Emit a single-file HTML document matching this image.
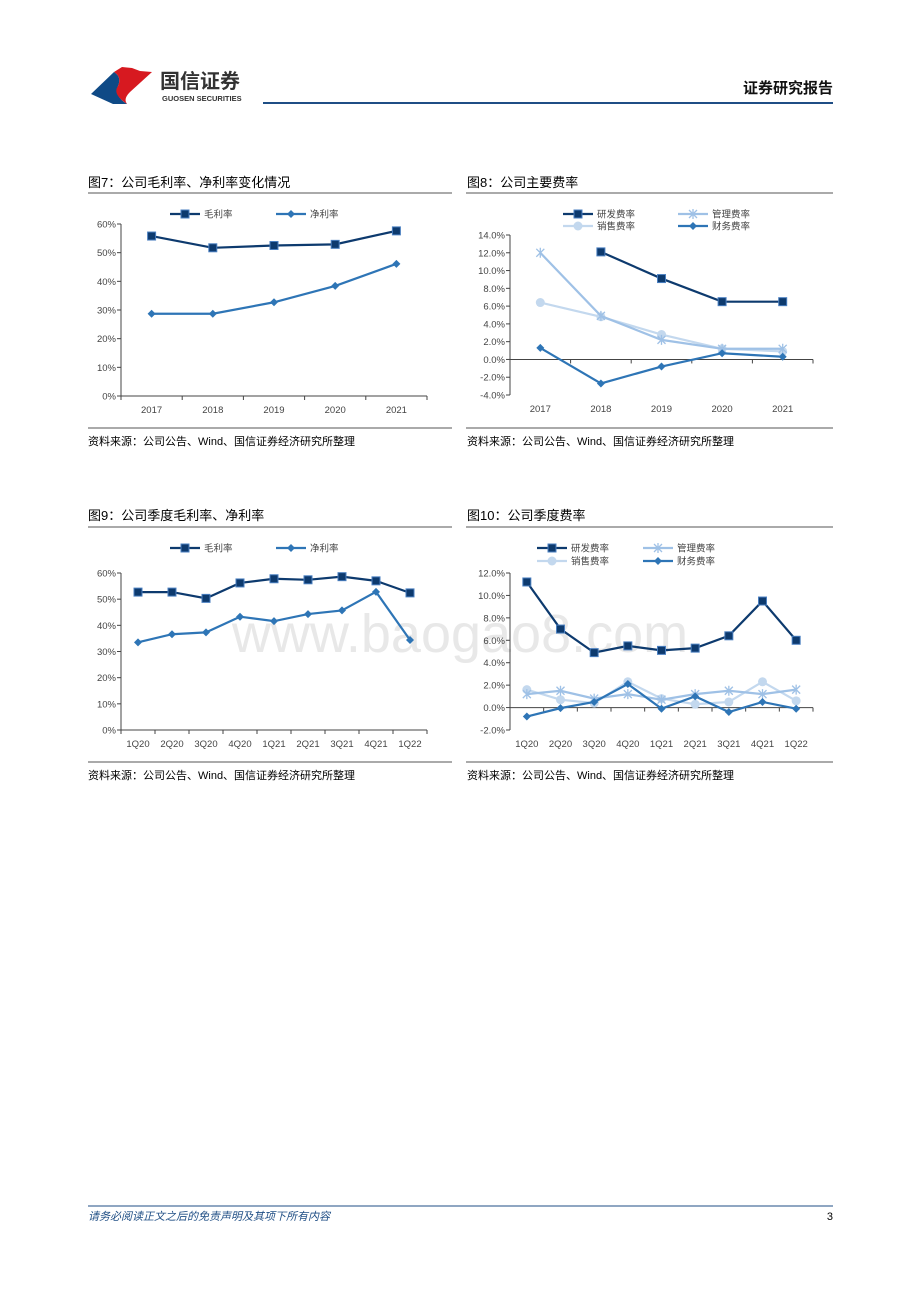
<!DOCTYPE html>
<html><head><meta charset="utf-8"><style>
body{margin:0;background:#fff;}
svg{display:block;font-family:"Liberation Sans","Noto Sans CJK SC",sans-serif;}
</style></head><body>
<svg id="pg" width="920" height="1302" viewBox="0 0 920 1302" xmlns="http://www.w3.org/2000/svg">
<text x="460" y="652" font-size="54" fill="#e8e8e8" text-anchor="middle">www.baogao8.com</text>
<g>
<path d="M91,94 L114,72 Q122,77 118,86 Q114,96 127,104 L113,104 Z" fill="#0f4a86"/>
<path d="M114,72 L122,67 L132,68 L140,71 L152,72 L130,92 Q123,99 127,104 Q112,94 118,86 Q122,77 114,72 Z" fill="#d71920"/>
<text x="160" y="88" font-size="20" font-weight="bold" fill="#333">国信证券</text>
<text x="162" y="101" font-size="7.5" font-weight="bold" fill="#333">GUOSEN SECURITIES</text>
</g>
<line x1="263" y1="103" x2="833" y2="103" stroke="#1f4e85" stroke-width="2"/>
<text x="833" y="93" font-size="15" font-weight="bold" text-anchor="end" fill="#111">证券研究报告</text>
<text x="88" y="187" font-size="13" fill="#000">图7：公司毛利率、净利率变化情况</text>
<text x="467" y="187" font-size="13" fill="#000">图8：公司主要费率</text>
<text x="88" y="520" font-size="13" fill="#000">图9：公司季度毛利率、净利率</text>
<text x="467" y="520" font-size="13" fill="#000">图10：公司季度费率</text>
<g stroke="#555" stroke-width="1">
<line x1="88" y1="193" x2="452" y2="193"/><line x1="466" y1="193" x2="833" y2="193"/>
<line x1="88" y1="527" x2="452" y2="527"/><line x1="466" y1="527" x2="833" y2="527"/>
<line x1="88" y1="428" x2="452" y2="428"/><line x1="466" y1="428" x2="833" y2="428"/>
<line x1="88" y1="762" x2="452" y2="762"/><line x1="466" y1="762" x2="833" y2="762"/>
</g>
<g font-size="11" fill="#000">
<text x="88" y="445">资料来源：公司公告、Wind、国信证券经济研究所整理</text>
<text x="467" y="445">资料来源：公司公告、Wind、国信证券经济研究所整理</text>
<text x="88" y="779">资料来源：公司公告、Wind、国信证券经济研究所整理</text>
<text x="467" y="779">资料来源：公司公告、Wind、国信证券经济研究所整理</text>
</g>
<line x1="88" y1="1206" x2="833" y2="1206" stroke="#1f4e85" stroke-width="1"/>
<text x="88" y="1220" font-size="11" font-style="italic" fill="#1f4e85">请务必阅读正文之后的免责声明及其项下所有内容</text>
<text x="833" y="1220" font-size="11" text-anchor="end" fill="#000">3</text>
</svg>
<script>
const yearCats=["2017","2018","2019","2020","2021"];
const quarterCats=["1Q20","2Q20","3Q20","4Q20","1Q21","2Q21","3Q21","4Q21","1Q22"];
const grossAnnual=[55.8,51.7,52.5,52.9,57.6];
const netAnnual=[28.7,28.7,32.7,38.4,46.1];
const rdAnnual=[null,12.1,9.1,6.5,6.5];
const mgmtAnnual=[12.0,4.9,2.2,1.2,1.2];
const salesAnnual=[6.4,4.8,2.8,1.2,0.9];
const finAnnual=[1.3,-2.7,-0.8,0.7,0.3];
const grossQ=[52.7,52.7,50.3,56.2,57.8,57.4,58.6,57.0,52.4];
const netQ=[33.5,36.6,37.3,43.3,41.6,44.3,45.7,52.8,34.4];
const rdQ=[11.2,7.0,4.9,5.5,5.1,5.3,6.4,9.5,6.0];
const mgmtQ=[1.2,1.5,0.8,1.2,0.7,1.2,1.5,1.2,1.6];
const salesQ=[1.6,0.7,0.4,2.3,0.8,0.3,0.5,2.3,0.6];
const finQ=[-0.8,-0.05,0.5,2.1,-0.1,1.0,-0.4,0.5,-0.1];
const ticks7=[0,10,20,30,40,50,60];
const ticks8=[-4,-2,0,2,4,6,8,10,12,14];
const ticks10=[-2,0,2,4,6,8,10,12];

const NS="http://www.w3.org/2000/svg";
const pg=document.getElementById('pg');
function mk(tag,at,parent){const e=document.createElementNS(NS,tag);for(const k in at)e.setAttribute(k,at[k]);(parent||pg).appendChild(e);return e;}
function marker(g,type,x,y,c){
  if(type==='sq') return mk('rect',{x:x-4,y:y-4,width:8,height:8,fill:c,stroke:'#4a7fc0','stroke-width':1},g);
  if(type==='di') return mk('path',{d:`M${x},${y-4}L${x+4},${y}L${x},${y+4}L${x-4},${y}Z`,fill:c},g);
  if(type==='ci') return mk('circle',{cx:x,cy:y,r:4.5,fill:c},g);
  return mk('path',{d:`M${x-4},${y-4}L${x+4},${y+4}M${x+4},${y-4}L${x-4},${y+4}M${x},${y-5}L${x},${y+5}`,stroke:c,'stroke-width':1.3,fill:'none'},g);
}
function chart(o){
  const g=mk('g',{});
  
  
  const n=o.cats.length, step=(o.x1-o.x0)/n;
  const xs=i=>o.x0+step*(i+0.5);
  const ys=v=>o.yb+(v-o.ymin)/(o.ymax-o.ymin)*(o.yt-o.yb);
  mk('line',{x1:o.x0,y1:o.yt,x2:o.x0,y2:o.yb,stroke:'#444'},g);
  o.ticks.forEach(t=>{
    mk('line',{x1:o.x0-4,y1:ys(t),x2:o.x0,y2:ys(t),stroke:'#444'},g);
    const tx=mk('text',{x:o.x0-5,y:ys(t)+3.5,'font-size':9.5,'text-anchor':'end',fill:'#444'},g);
    tx.textContent=(o.dec?t.toFixed(1):t)+'%';
    
    
  });
  const ax=ys(o.axisAt);
  mk('line',{x1:o.x0,y1:ax,x2:o.x1,y2:ax,stroke:'#444'},g);
  for(let i=0;i<=n;i++) mk('line',{x1:o.x0+step*i,y1:ax,x2:o.x0+step*i,y2:ax+4,stroke:'#444'},g);
  o.cats.forEach((c,i)=>{
    const tx=mk('text',{x:xs(i),y:o.yb+17,'font-size':9.5,'text-anchor':'middle',fill:'#444'},g);
    tx.textContent=c;
    
    
  });
  o.series.forEach(s=>{
    const sg=mk('g',{},g);
    
    
    let d='';
    s.data.forEach((v,i)=>{if(v==null)return;d+=(d?'L':'M')+xs(i)+','+ys(v);});
    mk('path',{d:d,fill:'none',stroke:s.color,'stroke-width':2.2},sg);
    s.data.forEach((v,i)=>{if(v==null)return;marker(sg,s.m,xs(i),ys(v),s.color);});
    const lg=mk('g',{},g);
    
    
    mk('line',{x1:s.lx,y1:s.ly,x2:s.lx+30,y2:s.ly,stroke:s.color,'stroke-width':2.2},lg);
    marker(lg,s.m,s.lx+15,s.ly,s.color);
    const t=mk('text',{x:s.lx+34,y:s.ly+3.5,'font-size':9.5,fill:'#444'},lg);
    t.textContent=s.label;
  });
}
const D='#0d3a6e',M='#2e75b6',L1='#9fc1e6',L2='#c3d8ee';
chart({name:'fig7-chart',cats:yearCats,x0:121,x1:427,yt:224,yb:396,ymin:0,ymax:60,ticks:ticks7,axisAt:0,dec:false,series:[
 {name:'gross-margin-line',label:'毛利率',data:grossAnnual,color:D,m:'sq',lx:170,ly:214},
 {name:'net-margin-line',label:'净利率',data:netAnnual,color:M,m:'di',lx:276,ly:214}]});
chart({name:'fig8-chart',cats:yearCats,x0:510,x1:813,yt:235,yb:395,ymin:-4,ymax:14,ticks:ticks8,axisAt:0,dec:true,series:[
 {name:'sales-rate-line',label:'销售费率',data:salesAnnual,color:L2,m:'ci',lx:563,ly:226},
 {name:'mgmt-rate-line',label:'管理费率',data:mgmtAnnual,color:L1,m:'x',lx:678,ly:214},
 {name:'fin-rate-line',label:'财务费率',data:finAnnual,color:M,m:'di',lx:678,ly:226},
 {name:'rd-rate-line',label:'研发费率',data:rdAnnual,color:D,m:'sq',lx:563,ly:214}]});
chart({name:'fig9-chart',cats:quarterCats,x0:121,x1:427,yt:573,yb:730,ymin:0,ymax:60,ticks:ticks7,axisAt:0,dec:false,series:[
 {name:'gross-margin-q-line',label:'毛利率',data:grossQ,color:D,m:'sq',lx:170,ly:548},
 {name:'net-margin-q-line',label:'净利率',data:netQ,color:M,m:'di',lx:276,ly:548}]});
chart({name:'fig10-chart',cats:quarterCats,x0:510,x1:813,yt:573,yb:730,ymin:-2,ymax:12,ticks:ticks10,axisAt:0,dec:true,series:[
 {name:'sales-rate-q-line',label:'销售费率',data:salesQ,color:L2,m:'ci',lx:537,ly:561},
 {name:'mgmt-rate-q-line',label:'管理费率',data:mgmtQ,color:L1,m:'x',lx:643,ly:548},
 {name:'fin-rate-q-line',label:'财务费率',data:finQ,color:M,m:'di',lx:643,ly:561},
 {name:'rd-rate-q-line',label:'研发费率',data:rdQ,color:D,m:'sq',lx:537,ly:548}]});
</script>
</body></html>
